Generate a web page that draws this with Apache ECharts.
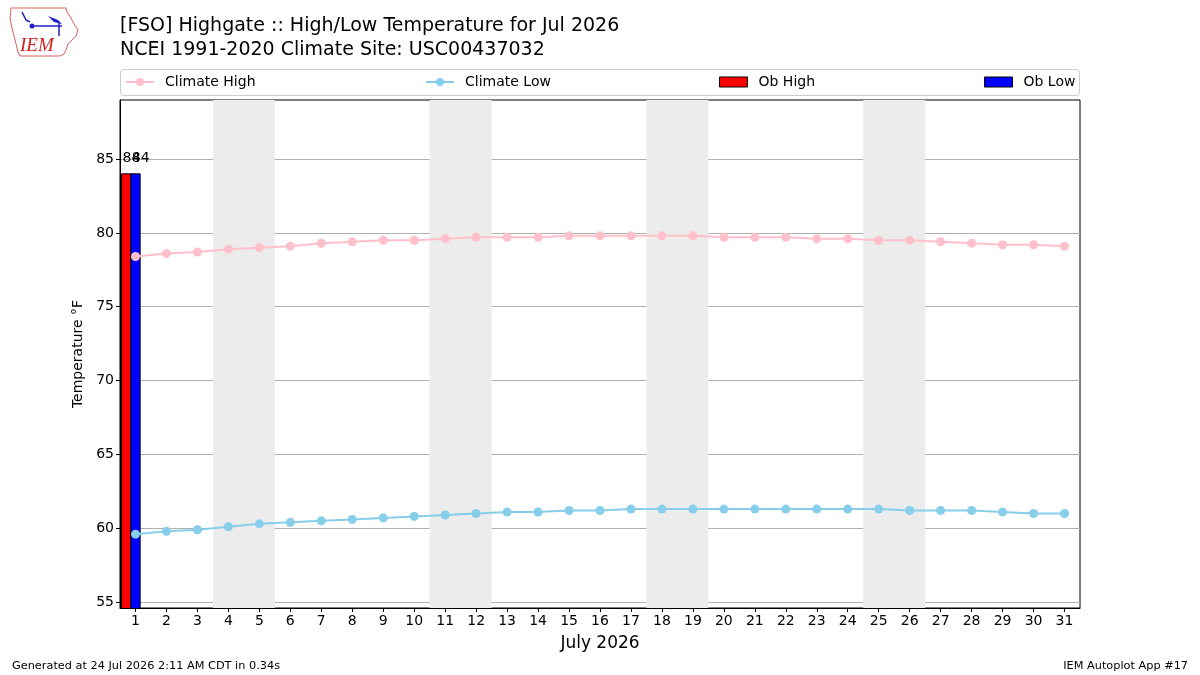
<!DOCTYPE html>
<html>
<head>
<meta charset="utf-8">
<script src="https://cdn.jsdelivr.net/npm/echarts@6/dist/echarts.min.js"></script>
<style>html,body{margin:0;padding:0;background:#fff}#c{width:1200px;height:675px}</style>
</head>
<body>
<div id="c"></div>
<script>
// ---- data ----
const days = [1,2,3,4,5,6,7,8,9,10,11,12,13,14,15,16,17,18,19,20,21,22,23,24,25,26,27,28,29,30,31];
const climateHigh = [78.4,78.6,78.7,78.9,79.0,79.1,79.3,79.4,79.5,79.5,79.6,79.7,79.7,79.7,79.8,79.8,79.8,79.8,79.8,79.7,79.7,79.7,79.6,79.6,79.5,79.5,79.4,79.3,79.2,79.2,79.1];
const climateLow = [59.6,59.8,59.9,60.1,60.3,60.4,60.5,60.6,60.7,60.8,60.9,61.0,61.1,61.1,61.2,61.2,61.3,61.3,61.3,61.3,61.3,61.3,61.3,61.3,61.3,61.2,61.2,61.2,61.1,61.0,61.0];
const obDays = [1];
const obHigh = [84];
const obLow = [84];
const weekendSpans = [[4,5],[11,12],[18,19],[25,26]];
const yTicks = [55,60,65,70,75,80,85];
const titleLine1 = '[FSO] Highgate :: High/Low Temperature for Jul 2026';
const titleLine2 = 'NCEI 1991-2020 Climate Site: USC00437032';
const xAxisTitle = 'July 2026';
const yAxisTitle = 'Temperature °F';
const footerLeft = 'Generated at 24 Jul 2026 2:11 AM CDT in 0.34s';
const footerRight = 'IEM Autoplot App #17';

const Y_MIN = 54.6, Y_MAX = 89.0;
const BAR_W = 0.3;
const FONT = 'DejaVu Sans';

function barSeries(name, vals, offset, color) {
  return {
    name: name,
    type: 'custom',
    clip: true,
    itemStyle: {color: color, borderColor: '#000', borderWidth: 1},
    data: obDays.map((d, i) => [d, vals[i]]),
    renderItem: function (params, api) {
      const d = api.value(0), v = api.value(1);
      const p0 = api.coord([d + offset - BAR_W / 2, v]);
      const p1 = api.coord([d + offset + BAR_W / 2, Y_MIN]);
      return {
        type: 'group',
        children: [
          {type: 'rect', shape: {x: p0[0], y: p0[1], width: p1[0] - p0[0], height: p1[1] - p0[1] + 2},
           style: {fill: color, stroke: '#000', lineWidth: 1}},
          {type: 'text', style: {text: String(v), x: p0[0] + 1, y: p0[1] - 8,
           textAlign: 'left', textVerticalAlign: 'bottom', fill: '#000', font: '14px ' + FONT}}
        ]
      };
    }
  };
}

const chart = echarts.init(document.getElementById('c'), null, {renderer: 'canvas'});

const legendBase = {
  top: 75, itemWidth: 28, itemHeight: 10, itemGap: 0, padding: 0,
  textStyle: {fontFamily: FONT, fontSize: 14, color: '#000', padding: [0, 0, 0, 6]}
};

chart.setOption({
  animation: false,
  backgroundColor: '#fff',
  textStyle: {fontFamily: FONT},
  title: [
    {text: titleLine1, left: 120, top: 17, padding: 0, textStyle: {fontFamily: FONT, fontSize: 19, fontWeight: 'normal', color: '#000'}},
    {text: titleLine2, left: 120, top: 41, padding: 0, textStyle: {fontFamily: FONT, fontSize: 19, fontWeight: 'normal', color: '#000'}},
    {text: footerLeft, left: 12, top: 661, padding: 0, textStyle: {fontFamily: FONT, fontSize: 11.3, fontWeight: 'normal', color: '#000'}},
    {text: footerRight, right: 12, top: 661, padding: 0, textStyle: {fontFamily: FONT, fontSize: 11.3, fontWeight: 'normal', color: '#000'}}
  ],
  legend: [
    Object.assign({}, legendBase, {left: 125, data: [{name: 'Climate High'}]}),
    Object.assign({}, legendBase, {left: 425, data: [{name: 'Climate Low'}]}),
    Object.assign({}, legendBase, {left: 719, data: [{name: 'Ob High', icon: 'rect', itemStyle: {borderColor: '#000', borderWidth: 1}}]}),
    Object.assign({}, legendBase, {left: 984, data: [{name: 'Ob Low', icon: 'rect', itemStyle: {borderColor: '#000', borderWidth: 1}}]})
  ],
  graphic: [
    {type: 'rect', shape: {x: 120.5, y: 69.5, width: 959, height: 26, r: 3}, style: {fill: 'none', stroke: '#cccccc', lineWidth: 1}, z: -1},
    // IEM logo (approximation)
    {type: 'group', x: 8, y: 6, children: [
      {type: 'polyline', shape: {points: [[3,2],[58,2],[59,6],[63,12],[66,18],[70,24],[68,30],[64,34],[60,38],[58,44],[56,48],[52,50],[12,50],[10,46],[8,38],[6,30],[4,22],[2,12],[3,2]]},
       style: {stroke: '#d96060', fill: 'none', lineWidth: 1}},
      {type: 'polyline', shape: {points: [[14,6],[18,14],[22,16]]}, style: {stroke: '#2020c0', lineWidth: 1.5, fill: 'none'}},
      {type: 'circle', shape: {cx: 24, cy: 20, r: 2.5}, style: {fill: '#2020c0'}},
      {type: 'line', shape: {x1: 24, y1: 20, x2: 54, y2: 20}, style: {stroke: '#2020c0', lineWidth: 1.5}},
      {type: 'polygon', shape: {points: [[40,10],[50,14],[54,18],[46,16]]}, style: {fill: '#2020c0'}},
      {type: 'line', shape: {x1: 51, y1: 16, x2: 51, y2: 30}, style: {stroke: '#2020c0', lineWidth: 1.5}},
      {type: 'text', style: {text: 'IEM', x: 12, y: 30, fill: '#d02020', font: 'italic 19px "Liberation Serif"'}}
    ]}
  ],
  grid: {left: 120, right: 120, top: 100, bottom: 67, show: true, borderColor: '#000', borderWidth: 1, backgroundColor: 'transparent'},
  xAxis: {
    type: 'value', min: 0.5, max: 31.5,
    name: xAxisTitle, nameLocation: 'middle', nameGap: 27,
    nameTextStyle: {fontFamily: FONT, fontSize: 17, color: '#000'},
    axisLine: {show: true, lineStyle: {color: '#000'}},
    axisTick: {show: true, length: 4, lineStyle: {color: '#000'}, customValues: days},
    axisLabel: {fontFamily: FONT, fontSize: 14, color: '#000', margin: 6, customValues: days},
    splitLine: {show: false}
  },
  yAxis: {
    type: 'value', min: Y_MIN, max: Y_MAX,
    name: yAxisTitle, nameLocation: 'middle', nameGap: 34, nameRotate: 90,
    nameTextStyle: {fontFamily: FONT, fontSize: 14, color: '#000'},
    axisLine: {show: true, lineStyle: {color: '#000'}},
    axisTick: {show: true, length: 4, lineStyle: {color: '#000'}, customValues: yTicks},
    axisLabel: {fontFamily: FONT, fontSize: 14, color: '#000', margin: 6, customValues: yTicks},
    splitLine: {show: true, lineStyle: {color: '#b0b0b0', width: 1}}
  },
  series: [
    {
      name: 'Climate High', type: 'line', z: 5,
      data: days.map((d, i) => [d, climateHigh[i]]),
      symbol: 'circle', symbolSize: 9, showSymbol: true,
      lineStyle: {color: '#FFC0CB', width: 2}, itemStyle: {color: '#FFC0CB'},
      markArea: {silent: true, itemStyle: {color: '#ececec'},
        data: weekendSpans.map(s => [{xAxis: s[0] - 0.5}, {xAxis: s[1] + 0.5}])}
    },
    {
      name: 'Climate Low', type: 'line', z: 5,
      data: days.map((d, i) => [d, climateLow[i]]),
      symbol: 'circle', symbolSize: 9, showSymbol: true,
      lineStyle: {color: '#87CEEB', width: 2}, itemStyle: {color: '#87CEEB'}
    },
    Object.assign(barSeries('Ob High', obHigh, -0.3, '#ff0000'), {z: 3}),
    Object.assign(barSeries('Ob Low', obLow, 0, '#0000ff'), {z: 3})
  ]
});
</script>
</body>
</html>
